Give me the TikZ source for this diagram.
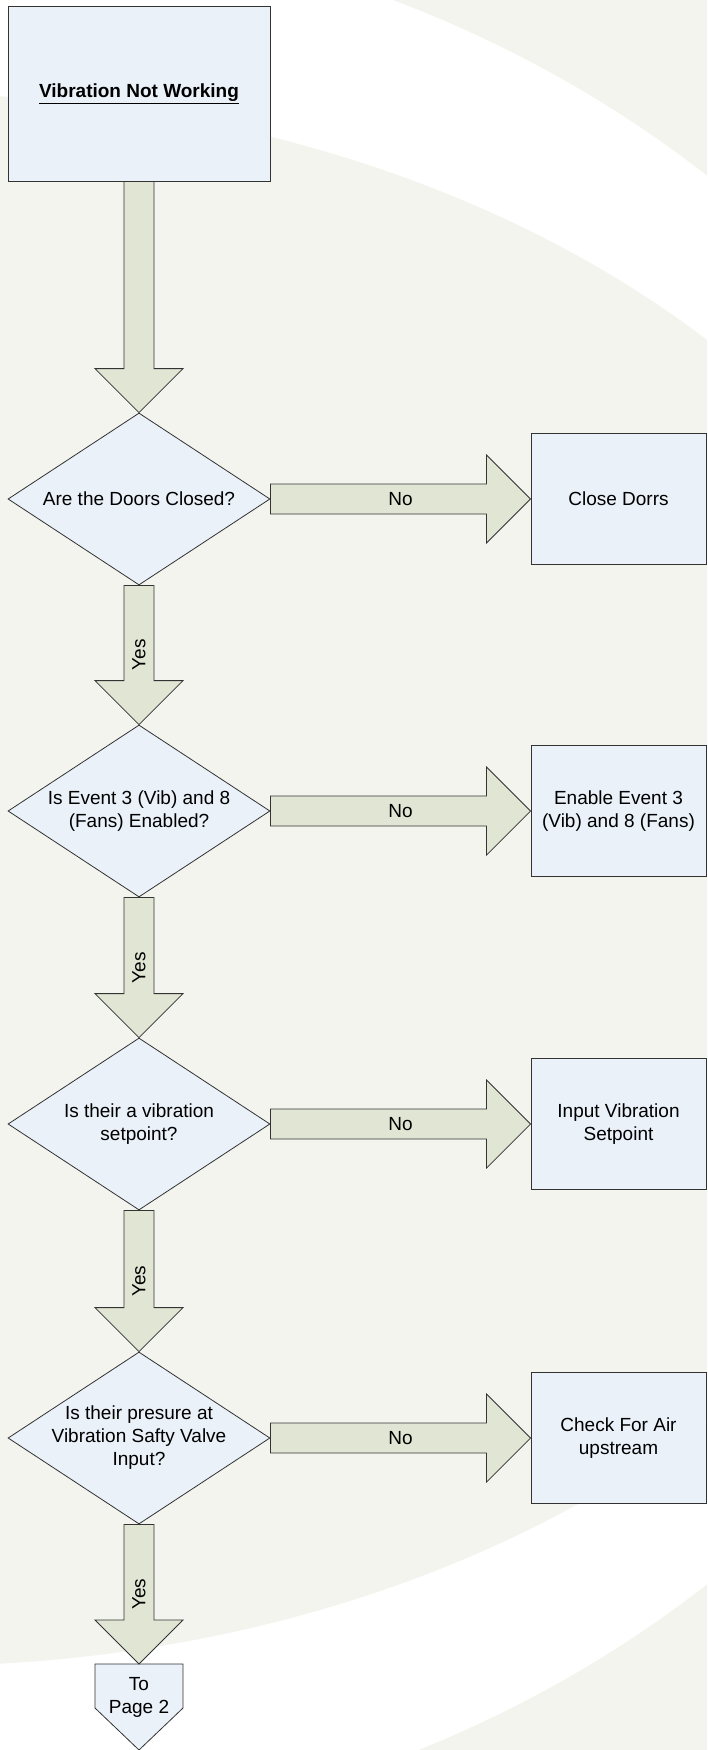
\documentclass[tikz,border=0pt]{standalone}
\usepackage{fontspec}
\setmainfont{Liberation Sans}
\usetikzlibrary{shapes.geometric,calc}

\definecolor{pagegrey}{HTML}{F3F4EE}
\definecolor{flowfill}{HTML}{E1E5D4}
\definecolor{boxfill}{HTML}{EAF1F9}
\definecolor{edgeline}{HTML}{333333}

% block arrow pointing down from anchor #1 to anchor #2
\newcommand\downflow[2]{%
  \draw[flowarrow] ($(#1)+(-15,0)$) -- ($(#2)+(-15,-44)$) -- ($(#2)+(-44,-44)$)
    -- (#2) -- ($(#2)+(44,-44)$) -- ($(#2)+(15,-44)$) -- ($(#1)+(15,0)$) -- cycle;}
% block arrow pointing right from anchor #1 to anchor #2
\newcommand\sideflow[2]{%
  \draw[flowarrow] ($(#1)+(0,-15)$) -- ($(#2)+(-44,-15)$) -- ($(#2)+(-44,-44)$)
    -- (#2) -- ($(#2)+(-44,44)$) -- ($(#2)+(-44,15)$) -- ($(#1)+(0,15)$) -- cycle;}

\tikzset{
  every node/.style={font=\fontsize{19}{23}\selectfont, text=black},
  flowarrow/.style={fill=flowfill, draw=edgeline, line width=0.8pt, line join=miter},
  stepbox/.style={rectangle, draw=edgeline, fill=boxfill, line width=0.9pt,
    minimum width=175pt, minimum height=131pt, inner sep=0pt, align=center},
  decision/.style={diamond, draw=edgeline, fill=boxfill, line width=0.8pt,
    minimum width=262pt, minimum height=172pt, inner sep=0pt},
  qtext/.style={align=center, inner sep=0pt},
  flowlabel/.style={inner sep=0pt},
}

\begin{document}
\begin{tikzpicture}[x=1pt, y=-1pt]
  \path[use as bounding box] (0,0) rectangle (707,1750);

  % page background: grey with a broad white ring
  \begin{scope}
    \clip (0,0) rectangle (707,1750);
    \fill[pagegrey] (0,0) rectangle (707,1750);
    \fill[white] (-85,880) ellipse [x radius=1157pt, y radius=966pt];
    \fill[pagegrey] (-85,880) ellipse [x radius=1090pt, y radius=786pt];
  \end{scope}

  % start box
  \node[stepbox, minimum width=262pt, minimum height=175pt] (start) at (139,93.5)
    {\underline{\textbf{Vibration Not Working}}};

  % decisions
  \node[decision] (d1) at (139,499) {};
  \node[qtext] (d1t) at (d1.center) {Are the Doors Closed?};
  \node[decision] (d2) at (139,811) {};
  \node[qtext] (d2t) at (d2.center) {Is Event 3 (Vib) and 8\\(Fans) Enabled?};
  \node[decision] (d3) at (139,1124) {};
  \node[qtext] (d3t) at (d3.center) {Is their a vibration\\setpoint?};
  \node[decision] (d4) at (139,1438) {};
  \node[qtext] (d4t) at (d4.center) {Is their presure at\\Vibration Safty Valve\\Input?};

  % actions
  \node[stepbox] (a1) at (618.5,499) {Close Dorrs};
  \node[stepbox] (a2) at (618.5,811) {Enable Event 3\\(Vib) and 8 (Fans)};
  \node[stepbox] (a3) at (618.5,1124) {Input Vibration\\Setpoint};
  \node[stepbox] (a4) at (618.5,1438) {Check For Air\\upstream};

  % off-page connector
  \coordinate (p2top) at (139,1664);
  \draw[fill=boxfill, draw=edgeline, line width=0.8pt]
    ($(p2top)+(-44,0)$) -- ($(p2top)+(44,0)$) -- ($(p2top)+(44,44)$)
    -- ($(p2top)+(0,86)$) -- ($(p2top)+(-44,44)$) -- cycle;
  \node[align=center, inner sep=0pt] (p2) at (139,1697) {To\\Page 2};

  % vertical flow
  \downflow{start.south}{d1.north}
  \downflow{d1.south}{d2.north}
  \downflow{d2.south}{d3.north}
  \downflow{d3.south}{d4.north}
  \downflow{d4.south}{p2top}
  \node[flowlabel, rotate=90] (y1) at ($(d1.south)!0.5!(d2.north)$) {Yes};
  \node[flowlabel, rotate=90] (y2) at ($(d2.south)!0.5!(d3.north)$) {Yes};
  \node[flowlabel, rotate=90] (y3) at ($(d3.south)!0.5!(d4.north)$) {Yes};
  \node[flowlabel, rotate=90] (y4) at ($(d4.south)!0.5!(p2top)$) {Yes};

  % side flow
  \sideflow{d1.east}{a1.west}
  \sideflow{d2.east}{a2.west}
  \sideflow{d3.east}{a3.west}
  \sideflow{d4.east}{a4.west}
  \node[flowlabel] (n1) at ($(d1.east)!0.5!(a1.west)$) {No};
  \node[flowlabel] (n2) at ($(d2.east)!0.5!(a2.west)$) {No};
  \node[flowlabel] (n3) at ($(d3.east)!0.5!(a3.west)$) {No};
  \node[flowlabel] (n4) at ($(d4.east)!0.5!(a4.west)$) {No};
\end{tikzpicture}
\end{document}
